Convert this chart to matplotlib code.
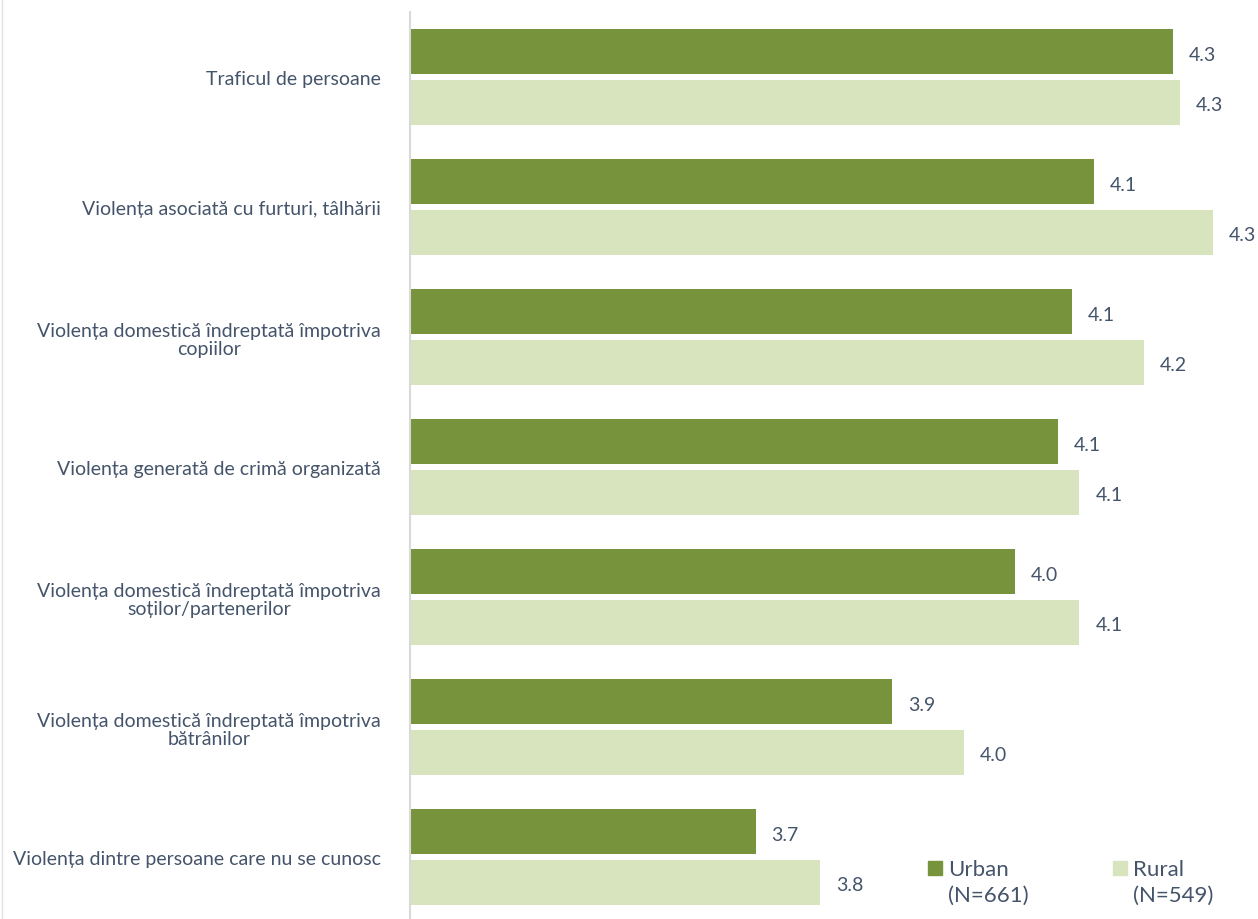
import matplotlib
matplotlib.use("Agg")
import matplotlib.pyplot as plt
import numpy as np
from matplotlib.lines import Line2D
from matplotlib.patches import Rectangle

plt.rcParams['font.family'] = ['Lato', 'DejaVu Sans']

categories = [
    "Traficul de persoane",
    "Violența asociată cu furturi, tâlhării",
    "Violența domestică îndreptată împotriva\ncopiilor",
    "Violența generată de crimă organizată",
    "Violența domestică îndreptată împotriva\nsoților/partenerilor",
    "Violența domestică îndreptată împotriva\nbătrânilor",
    "Violența dintre persoane care nu se cunosc",
]
urban = [4.26, 4.15, 4.12, 4.10, 4.04, 3.87, 3.68]
rural = [4.27, 4.315, 4.22, 4.13, 4.13, 3.97, 3.77]
urban_labels = ["4.3", "4.1", "4.1", "4.1", "4.0", "3.9", "3.7"]
rural_labels = ["4.3", "4.3", "4.2", "4.1", "4.1", "4.0", "3.8"]
series_names = ["Urban", "Rural"]
series_n = ["(N=661)", "(N=549)"]

c_urban = "#77933C"
c_rural = "#D7E4BD"
txt = "#44546A"

W, H = 1258, 920
fig = plt.figure(figsize=(W/100, H/100), dpi=100)
ax = fig.add_axes([410/W, -3/H, 848/W, (923-13)/H])

n = len(categories)
y = np.arange(n)
bh = 0.35
gap = 0.04
ax.barh(y - (bh/2 + gap/2), urban, height=bh, color=c_urban)
ax.barh(y + (bh/2 + gap/2), rural, height=bh, color=c_rural)
ax.set_xlim(3.2, 4.378)
ax.set_ylim(n - 0.5, -0.5)

off = 0.022
for i in range(n):
    ax.text(urban[i] + off, y[i] - (bh/2 + gap/2) + 0.02, urban_labels[i], va='center', ha='left', fontsize=14, color=txt)
    ax.text(rural[i] + off, y[i] + (bh/2 + gap/2) + 0.02, rural_labels[i], va='center', ha='left', fontsize=14, color=txt)

ax.set_yticks(y)
ax.set_yticklabels(categories, fontsize=14, color=txt)
ax.tick_params(axis='y', length=0, pad=21)
ax.set_xticks([])
for s in ['top', 'right', 'bottom']:
    ax.spines[s].set_visible(False)
ax.spines['left'].set_color('#D9D9D9')
ax.spines['left'].set_linewidth(1.5)

for t in ax.get_yticklabels():
    t.set_multialignment('center')
    t.set_linespacing(1.1)

# figure border line on left
fig.add_artist(Line2D([2/W, 2/W], [0, 1], color='#E3E3E3', lw=1))

# legend (manual, two columns with two-line labels)
leg_x = [928, 1113]
colors = [c_urban, c_rural]
for k in range(2):
    fig.add_artist(Rectangle((leg_x[k]/W, 1 - 876/H), 14/W, 14/H,
                             transform=fig.transFigure, color=colors[k]))
    fig.text((leg_x[k] + 20)/W, 1 - 876/H, series_names[k], fontsize=16, color=txt, va='baseline', ha='left')
    fig.text((leg_x[k] + 20)/W, 1 - 902/H, series_n[k], fontsize=16, color=txt, va='baseline', ha='left')

fig.savefig("out.png", dpi=100)
